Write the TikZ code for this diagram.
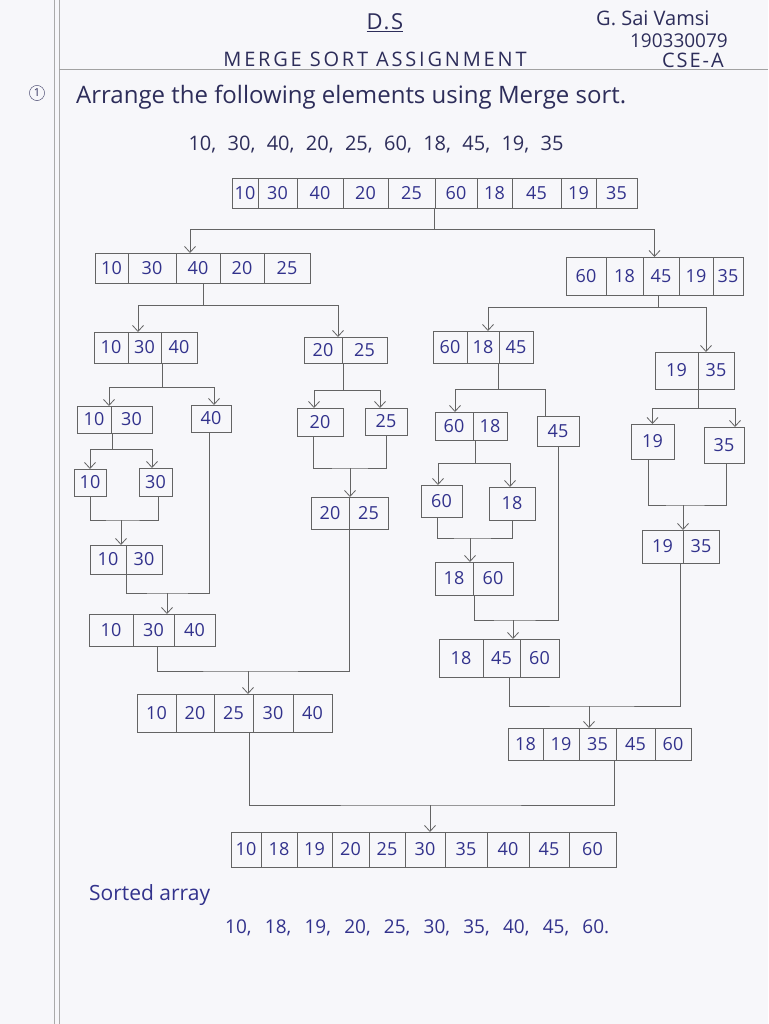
\documentclass[tikz,border=0pt]{standalone}
\usepackage{fontspec}
\setmainfont{Open Sans}
\usepackage{tikz}
\usetikzlibrary{arrows.meta}
\definecolor{ink}{RGB}{50,50,140}
\definecolor{darkink}{RGB}{45,45,90}
\definecolor{pencil}{RGB}{100,100,100}
\definecolor{paper}{RGB}{247,247,250}
% one row of cells: name, left, right, top, bottom, {right/value,...}
\newcommand{\cellrow}[6]{%
  \node[row,minimum width={(#3-#2)*1pt},minimum height={(#5-#4)*1pt}] (#1) at ({(#2+#3)/2},{(#4+#5)/2}) {};
  \foreach \r/\v [count=\i, remember=\r as \l (initially #2)] in {#6}
    \node[cell,minimum width={(\r-\l)*1pt},minimum height={(#5-#4)*1pt}] (#1-\i) at ({(\l+\r)/2},{(#4+#5)/2}) {\v};
}

\begin{document}
\begin{tikzpicture}[x=1pt,y=-1pt,
  wire/.style={draw=pencil,line width=0.8pt},
  feed/.style={wire,-{Straight Barb[length=6pt,width=11pt]}},
  row/.style={inner sep=0pt,outer sep=0pt},
  cell/.style={draw=pencil,line width=0.8pt,inner sep=0pt,outer sep=0pt,text=ink,font=\fontsize{18}{20}\selectfont},
  hand/.style={inner sep=0pt,text=darkink}]
  \fill[paper] (0,0) rectangle (768,1024);
  \useasboundingbox (0,0) rectangle (768,1024);
  % margin and header rule
  \draw[pencil!55,line width=0.7pt] (54,0) -- (54,1024) (59,0) -- (59,1024);
  \draw[pencil!60,line width=0.8pt] (59,69) -- (768,69);

  % header
  \node[hand,font=\fontsize{22}{24}\selectfont\addfontfeatures{LetterSpace=8}] (ds) at (385,23) {\underline{D.S}};
  \node[hand,anchor=west,font=\fontsize{20}{22}\selectfont] (who) at (596,18) {G. Sai Vamsi};
  \node[hand,anchor=east,font=\fontsize{19}{22}\selectfont] (roll) at (728,41) {190330079};
  \node[hand,anchor=east,font=\fontsize{20}{22}\selectfont\addfontfeatures{LetterSpace=10}] (sec) at (724,60) {CSE-A};
  \node[hand,font=\fontsize{20}{22}\selectfont\addfontfeatures{LetterSpace=14}] (title) at (375,59) {MERGE SORT ASSIGNMENT};
  \node[draw=darkink,circle,inner sep=1.8pt,text=darkink,font=\fontsize{11}{12}\selectfont] (q1) at (37,93) {1};
  \node[hand,anchor=west,font=\fontsize{24}{26}\selectfont] (task) at (76,97) {Arrange the following elements using Merge sort.};
  \node[hand,font=\fontsize{20}{24}\selectfont] (input) at (376,145) {\makebox[375pt][s]{10, 30, 40, 20, 25, 60, 18, 45, 19, 35}};

  % arrays
  \cellrow{start}{232}{637}{178}{208}{258/10,297/30,343/40,388/20,435/25,477/60,512/18,561/45,596/19,637/35}
  \cellrow{l1}{95}{310}{253}{283}{128/10,176/30,220/40,264/20,310/25}
  \cellrow{r1}{566}{743}{257}{295}{606/60,643/18,679/45,713/19,743/35}
  \cellrow{l2a}{94}{197}{332}{363}{128/10,161/30,197/40}
  \cellrow{l2b}{304}{387}{337}{363}{342/20,387/25}
  \cellrow{r2a}{433}{533}{331}{363}{467/60,499/18,533/45}
  \cellrow{r2b}{655}{734}{352}{389}{698/19,734/35}
  \cellrow{l3a}{77}{152}{406}{433}{111/10,152/30}
  \cellrow{l3b}{191}{231}{405}{432}{231/40}
  \cellrow{l3c}{297}{343}{408}{436}{343/20}
  \cellrow{l3d}{365}{407}{408}{435}{407/25}
  \cellrow{r3a}{435}{507}{412}{440}{473/60,507/18}
  \cellrow{r3b}{537}{579}{416}{446}{579/45}
  \cellrow{r3c}{631}{674}{424}{459}{674/19}
  \cellrow{r3d}{704}{744}{427}{463}{744/35}
  \cellrow{l4a}{74}{106}{469}{496}{106/10}
  \cellrow{l4b}{139}{172}{468}{496}{172/30}
  \cellrow{r4a}{421}{462}{485}{517}{462/60}
  \cellrow{r4b}{489}{535}{487}{520}{535/18}
  \cellrow{m1}{90}{162}{545}{574}{126/10,162/30}
  \cellrow{m2}{311}{388}{497}{529}{349/20,388/25}
  \cellrow{m3}{435}{513}{562}{595}{473/18,513/60}
  \cellrow{m4}{642}{719}{530}{563}{683/19,719/35}
  \cellrow{m5}{89}{215}{614}{646}{133/10,174/30,215/40}
  \cellrow{m6}{439}{559}{639}{677}{483/18,520/45,559/60}
  \cellrow{m7}{137}{332}{694}{732}{176/10,214/20,253/25,293/30,332/40}
  \cellrow{m8}{508}{691}{728}{760}{543/18,579/19,616/35,655/45,691/60}
  \cellrow{final}{231}{616}{832}{867}{261/10,297/18,332/19,369/20,405/25,445/30,487/35,529/40,569/45,616/60}

  % split points and merge points
  \foreach \n/\x/\y in {s0/434.5/229,s1/203/305,s2/658/307,s3/162/387,s4/343/390,s5/498/389,s6/698/408,s7/112/449,s8/475/463}
    \coordinate (\n) at (\x,\y);
  \foreach \n/\x/\y in {j1/121/520,j2/350/468,j3/470/538,j4/683/505,j5/167/593,j6/513/620,j7/248/671,j8/589/706,j9/430/805}
    \coordinate (\n) at (\x,\y);

  % dividing
  \draw[wire] (s0 |- start.south) -- (s0);
  \draw[feed] (s0) -| ([xshift=-12.5pt]l1.north);
  \draw[feed] (s0) -| (r1.north);
  \draw[wire] (s1 |- l1.south) -- (s1);
  \draw[feed] (s1) -| ([xshift=-7.5pt]l2a.north);
  \draw[feed] (s1) -| ([xshift=-7.5pt]l2b.north);
  \draw[wire] (s2 |- r1.south) -- (s2);
  \draw[feed] (s2) -| ([xshift=5pt]r2a.north);
  \draw[feed] (s2) -| ([xshift=11.5pt]r2b.north);
  \draw[wire] (s3 |- l2a.south) -- (s3);
  \draw[feed] (s3) -| ([xshift=-5.5pt]l3a.north);
  \draw[feed] (s3) -| ([xshift=3pt]l3b.north);
  \draw[wire] (s4 |- l2b.south) -- (s4);
  \draw[feed] (s4) -| ([xshift=-6pt]l3c.north);
  \draw[feed] (s4) -| ([xshift=-6pt]l3d.north);
  \draw[wire] (s5 |- r2a.south) -- (s5);
  \draw[feed] (s5) -| ([xshift=-16pt]r3a.north);
  \draw[wire] (s5) -| ([xshift=-13pt]r3b.north);
  \draw[wire] (s6 |- r2b.south) -- (s6);
  \draw[feed] (s6) -| (r3c.north);
  \draw[feed] (s6) -| ([xshift=11pt]r3d.north);
  \draw[wire] (s7 |- l3a.south) -- (s7);
  \draw[feed] (s7) -| (l4a.north);
  \draw[feed] (s7) -| ([xshift=-3.5pt]l4b.north);
  \draw[wire] (s8 |- r3a.south) -- (s8);
  \draw[feed] (s8) -| ([xshift=-3.5pt]r4a.north);
  \draw[feed] (s8) -| ([xshift=-2pt]r4b.north);

  % merging
  \draw[wire] (l4a.south) |- (j1) -| ([xshift=2.5pt]l4b.south);
  \draw[feed] (j1) -- (j1 |- m1.north);
  \draw[wire] ([xshift=-7pt]l3c.south) |- (j2) -| (l3d.south);
  \draw[feed] (j2) -- (j2 |- m2.north);
  \draw[wire] ([xshift=-4.5pt]r4a.south) |- (j3) -| (r4b.south);
  \draw[feed] (j3) -- (j3 |- m3.north);
  \draw[wire] ([xshift=-4.5pt]r3c.south) |- (j4) -| ([xshift=2pt]r3d.south);
  \draw[feed] (j4) -- (j4 |- m4.north);
  \draw[wire] (m1.south) |- (j5) -| ([xshift=-2pt]l3b.south);
  \draw[feed] (j5) -- (j5 |- m5.north);
  \draw[wire] (m3.south) |- (j6) -| (r3b.south);
  \draw[feed] (j6) -- (j6 |- m6.north);
  \draw[wire] ([xshift=5pt]m5.south) |- (j7) -| (m2.south);
  \draw[feed] (j7) -- (j7 |- m7.north);
  \draw[wire] ([xshift=10pt]m6.south) |- (j8) -| (m4.south);
  \draw[feed] (j8) -- (j8 |- m8.north);
  \draw[wire] ([xshift=14.5pt]m7.south) |- (j9) -| ([xshift=14.5pt]m8.south);
  \draw[feed] (j9) -- (j9 |- final.north);

  % result
  \node[hand,text=ink,anchor=west,font=\fontsize{21}{24}\selectfont] (lbl) at (89,895) {Sorted array};
  \node[hand,text=ink,anchor=west,font=\fontsize{19}{22}\selectfont] (result) at (225,928) {\makebox[384pt][s]{10, 18, 19, 20, 25, 30, 35, 40, 45, 60.}};
\end{tikzpicture}
\end{document}
